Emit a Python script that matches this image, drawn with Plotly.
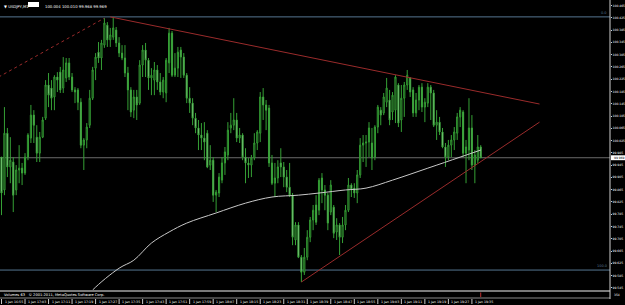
import plotly.graph_objects as go

# ---------------- data ----------------
symbol_text = "▼ USDJPY,M1"
header_values = "100.004 100.010 99.968 99.969"
copyright_text = "Volumes 63   © 2001-2011, MetaQuotes Software Corp."
volume_scale_label = "354"
bid_price = 99.969

bars = list(range(164))

open_ = [99.971, 99.864, 100.049, 99.939, 99.955, 99.864, 99.929, 99.935, 99.919, 99.971,
         100.033, 100.108, 100.036, 99.984, 100.036, 100.098, 100.206, 100.196, 100.167, 100.232,
         100.248, 100.196, 100.229, 100.278, 100.232, 100.190, 100.190, 100.150, 100.010, 100.027,
         100.075, 100.163, 100.261, 100.313, 100.294, 100.336, 100.401, 100.353, 100.362, 100.385,
         100.343, 100.310, 100.294, 100.245, 100.190, 100.124, 100.167, 100.147, 100.271, 100.320,
         100.287, 100.229, 100.222, 100.255, 100.216, 100.183, 100.180, 100.278, 100.375, 100.238,
         100.261, 100.320, 100.297, 100.238, 100.163, 100.147, 100.098, 100.066, 100.043, 100.033,
         100.049, 99.945, 99.961, 99.847, 99.854, 99.896, 99.952, 99.978, 100.066, 100.075,
         100.092, 100.033, 100.043, 99.971, 99.952, 99.945, 99.968, 100.017, 100.049, 100.167,
         100.141, 100.131, 99.952, 99.886, 99.903, 99.952, 99.939, 99.906, 99.873, 99.847,
         99.701, 99.750, 99.645, 99.596, 99.645, 99.710, 99.766, 99.815, 99.798, 99.903,
         99.864, 99.847, 99.792, 99.808, 99.727, 99.750, 99.710, 99.750, 99.798, 99.880,
         99.870, 99.854, 99.913, 100.010, 100.017, 100.020, 100.017, 99.971, 100.069, 100.124,
         100.115, 100.150, 100.157, 100.118, 100.124, 100.206, 100.092, 100.163, 100.206, 100.229,
         100.190, 100.115, 100.157, 100.199, 100.134, 100.147, 100.199, 100.180, 100.075, 100.085,
         100.053, 100.004, 99.971, 100.010, 100.027, 100.049, 100.102, 100.118, 99.984, 99.994,
         100.066, 99.945, 99.961, 100.004]

high = [99.971, 100.134, 100.066, 100.036, 99.971, 99.945, 100.010, 99.952, 99.984, 100.049,
        100.141, 100.124, 100.075, 100.053, 100.102, 100.222, 100.245, 100.222, 100.238, 100.248,
        100.265, 100.297, 100.294, 100.294, 100.245, 100.199, 100.196, 100.163, 100.033, 100.082,
        100.190, 100.265, 100.310, 100.346, 100.353, 100.424, 100.411, 100.392, 100.428, 100.395,
        100.362, 100.336, 100.336, 100.265, 100.199, 100.190, 100.190, 100.287, 100.336, 100.343,
        100.294, 100.261, 100.281, 100.271, 100.245, 100.232, 100.294, 100.392, 100.382, 100.310,
        100.330, 100.330, 100.310, 100.245, 100.199, 100.163, 100.115, 100.092, 100.082, 100.085,
        100.059, 100.010, 99.971, 99.864, 99.919, 99.971, 100.004, 100.085, 100.115, 100.163,
        100.115, 100.066, 100.049, 100.000, 99.968, 99.978, 100.049, 100.059, 100.183, 100.196,
        100.157, 100.141, 99.978, 99.952, 99.961, 100.000, 99.955, 99.929, 99.952, 99.854,
        99.759, 99.759, 99.652, 99.675, 99.733, 99.776, 99.815, 99.847, 99.903, 99.919,
        99.880, 99.854, 99.896, 99.815, 99.772, 99.756, 99.776, 99.815, 99.903, 99.886,
        99.886, 99.929, 100.033, 100.043, 100.043, 100.085, 100.066, 100.075, 100.141, 100.134,
        100.180, 100.229, 100.190, 100.183, 100.238, 100.212, 100.206, 100.216, 100.255, 100.232,
        100.199, 100.180, 100.206, 100.212, 100.163, 100.212, 100.206, 100.190, 100.124, 100.102,
        100.066, 100.017, 100.027, 100.043, 100.069, 100.115, 100.134, 100.124, 100.027, 100.163,
        100.108, 99.994, 100.043, 100.010]

low = [99.782, 99.847, 99.906, 99.886, 99.792, 99.847, 99.886, 99.880, 99.913, 99.961,
       100.017, 100.017, 99.955, 99.955, 100.033, 100.092, 100.134, 100.124, 100.124, 100.183,
       100.180, 100.180, 100.216, 100.222, 100.183, 100.147, 100.124, 100.000, 99.929, 100.000,
       100.066, 100.157, 100.222, 100.278, 100.255, 100.327, 100.330, 100.330, 100.353, 100.330,
       100.297, 100.287, 100.232, 100.124, 100.102, 100.098, 100.092, 100.141, 100.232, 100.232,
       100.190, 100.173, 100.173, 100.190, 100.173, 100.163, 100.150, 100.245, 100.232, 100.232,
       100.232, 100.229, 100.229, 100.147, 100.115, 100.075, 100.049, 99.994, 99.994, 99.961,
       99.935, 99.929, 99.825, 99.792, 99.841, 99.886, 99.913, 99.961, 100.049, 100.059,
       100.020, 100.017, 99.961, 99.886, 99.903, 99.906, 99.961, 99.994, 100.020, 100.092,
       100.059, 99.939, 99.880, 99.841, 99.886, 99.906, 99.873, 99.857, 99.841, 99.684,
       99.684, 99.642, 99.564, 99.587, 99.635, 99.694, 99.733, 99.750, 99.782, 99.821,
       99.798, 99.733, 99.782, 99.707, 99.701, 99.652, 99.691, 99.733, 99.792, 99.841,
       99.838, 99.821, 99.903, 99.955, 99.939, 99.971, 99.929, 99.961, 100.049, 100.075,
       100.108, 100.134, 100.075, 100.092, 100.082, 100.069, 100.053, 100.102, 100.190, 100.167,
       100.102, 100.102, 100.124, 100.118, 100.085, 100.134, 100.092, 100.069, 100.027, 100.043,
       100.000, 99.939, 99.961, 99.971, 99.994, 100.027, 100.069, 99.971, 99.886, 99.961,
       99.929, 99.886, 99.952, 99.968]

close = [99.854, 100.049, 99.939, 99.961, 99.847, 99.929, 99.935, 99.919, 99.971, 100.043,
         100.108, 100.075, 99.984, 100.036, 100.092, 100.206, 100.173, 100.163, 100.232, 100.222,
         100.190, 100.255, 100.278, 100.232, 100.190, 100.183, 100.150, 100.010, 100.027, 100.069,
         100.163, 100.255, 100.297, 100.294, 100.343, 100.408, 100.353, 100.369, 100.392, 100.343,
         100.310, 100.294, 100.245, 100.190, 100.118, 100.167, 100.141, 100.271, 100.320, 100.287,
         100.229, 100.238, 100.255, 100.216, 100.183, 100.222, 100.287, 100.375, 100.238, 100.261,
         100.313, 100.297, 100.238, 100.163, 100.147, 100.098, 100.066, 100.043, 100.033, 100.020,
         99.939, 99.961, 99.847, 99.857, 99.906, 99.952, 99.988, 100.059, 100.075, 100.092,
         100.033, 100.043, 99.971, 99.952, 99.945, 99.968, 100.017, 100.053, 100.167, 100.141,
         100.124, 99.952, 99.886, 99.903, 99.939, 99.939, 99.906, 99.873, 99.847, 99.710,
         99.750, 99.645, 99.596, 99.645, 99.710, 99.766, 99.798, 99.759, 99.896, 99.864,
         99.847, 99.756, 99.880, 99.723, 99.750, 99.710, 99.750, 99.798, 99.880, 99.864,
         99.854, 99.913, 100.010, 100.017, 100.020, 100.066, 99.968, 100.069, 100.134, 100.108,
         100.167, 100.196, 100.092, 100.173, 100.232, 100.082, 100.163, 100.206, 100.238, 100.183,
         100.115, 100.157, 100.199, 100.134, 100.150, 100.199, 100.180, 100.075, 100.085, 100.053,
         100.004, 99.971, 100.010, 100.027, 100.053, 100.102, 100.124, 99.984, 100.004, 100.066,
         99.945, 99.978, 100.004, 99.969]

# moving average (light grey curve), read at a few bars
ma_bars = [27, 31, 40, 45, 51, 57, 63, 73, 83, 92, 101, 108, 117, 124, 133, 145, 156, 163]
ma_values = [99.49, 99.538, 99.609, 99.635, 99.691, 99.727, 99.756, 99.789, 99.821, 99.841,
             99.847, 99.854, 99.864, 99.870, 99.896, 99.935, 99.971, 99.994]

# trend lines (bar, price) pairs
trend1_bars = [-1, 35]
trend1_prices = [100.232, 100.424]
trend2_bars = [37, 183]
trend2_prices = [100.428, 100.144]
trend3_bars = [102, 183]
trend3_prices = [99.564, 100.085]

# fibonacci levels
fib_prices = [100.428, 99.603]
fib_labels = ["0.0", "100.0"]

# price scale
price_ticks = [100.465, 100.425, 100.385, 100.345, 100.305, 100.265, 100.225, 100.185,
               100.145, 100.105, 100.065, 100.025, 99.985, 99.945, 99.905, 99.865, 99.825,
               99.785, 99.745, 99.705, 99.665, 99.625, 99.585, 99.545]

# time scale
time_tick_bars = [0, 8, 16, 24, 32, 40, 48, 56, 64, 72, 80, 88, 96, 104, 112, 120, 128,
                  136, 144, 152, 160]
time_labels = ["1 Jan 16:55", "1 Jan 17:03", "1 Jan 17:11", "1 Jan 17:19", "1 Jan 17:27",
               "1 Jan 17:35", "1 Jan 17:43", "1 Jan 17:51", "1 Jan 17:59", "1 Jan 18:07",
               "1 Jan 18:15", "1 Jan 18:23", "1 Jan 18:31", "1 Jan 18:39", "1 Jan 18:47",
               "1 Jan 18:55", "1 Jan 19:03", "1 Jan 19:11", "1 Jan 19:19", "1 Jan 19:27",
               "1 Jan 19:35"]

# ---------------- styling ----------------
W, H = 625, 305
PLOT_RIGHT = 610
MAIN_BOTTOM = 290
FONT = "DejaVu Sans"
CANDLE_LINE = "#35a035"
BEAR_FILL = "#d8f8d8"
RED = "#9a2b2b"
FIB = "#557691"
GRID_GREY = "#6a6a6a"


def py(px):
    """pixel row (from top) -> paper y"""
    return 1 - px / H


def pxx(px):
    return px / W


fig = go.Figure()

fig.add_trace(go.Candlestick(
    x=bars, open=open_, high=high, low=low, close=close,
    increasing=dict(line=dict(color=CANDLE_LINE, width=1), fillcolor="#000000"),
    decreasing=dict(line=dict(color=CANDLE_LINE, width=1), fillcolor=BEAR_FILL),
    whiskerwidth=0, hoverinfo="none", showlegend=False))

fig.add_trace(go.Scatter(x=ma_bars, y=ma_values, mode="lines",
                         line=dict(color="#c8c8c8", width=1, shape="spline"),
                         hoverinfo="skip", showlegend=False))

fig.add_trace(go.Scatter(x=trend1_bars, y=trend1_prices, mode="lines",
                         line=dict(color=RED, width=1, dash="dot"),
                         hoverinfo="skip", showlegend=False))
for tb, tp in [(trend2_bars, trend2_prices), (trend3_bars, trend3_prices)]:
    fig.add_trace(go.Scatter(x=tb, y=tp, mode="lines",
                             line=dict(color=RED, width=1),
                             hoverinfo="skip", showlegend=False))

shapes = []
annotations = []

# fib lines
for fp, fl in zip(fib_prices, fib_labels):
    shapes.append(dict(type="line", xref="x domain", yref="y", x0=0, x1=1, y0=fp, y1=fp,
                       line=dict(color=FIB, width=1), layer="below"))
    annotations.append(dict(text=fl, xref="paper", yref="y", x=pxx(PLOT_RIGHT - 1), y=fp,
                            xanchor="right", yanchor="bottom", showarrow=False,
                            font=dict(size=3.5, color=FIB, family=FONT)))

# bid line
shapes.append(dict(type="line", xref="x domain", yref="y", x0=0, x1=1, y0=bid_price, y1=bid_price,
                   line=dict(color=GRID_GREY, width=1), layer="below"))

# separator between main window and sub-window
shapes.append(dict(type="rect", xref="paper", yref="paper", x0=0, x1=pxx(PLOT_RIGHT),
                   y0=py(292), y1=py(290), fillcolor="#7a7a7a", line=dict(width=0)))
shapes.append(dict(type="line", xref="paper", yref="paper", x0=0, x1=pxx(PLOT_RIGHT),
                   y0=py(298), y1=py(298), line=dict(color="#8a8a8a", width=1)))
# right price axis line (full height)
shapes.append(dict(type="line", xref="paper", yref="paper", x0=pxx(PLOT_RIGHT), x1=pxx(PLOT_RIGHT),
                   y0=py(299), y1=1, line=dict(color="#d0d0d0", width=1)))

# volume sub-window mark on last bar
shapes.append(dict(type="line", xref="x", yref="paper", x0=bars[-1], x1=bars[-1],
                   y0=py(297), y1=py(292.5), line=dict(color="#c03030", width=1)))
annotations.append(dict(text=volume_scale_label, xref="paper", yref="paper", x=pxx(PLOT_RIGHT + 2),
                        y=py(294.5), xanchor="left", yanchor="middle", showarrow=False,
                        font=dict(size=3, color="white", family=FONT)))

# bid price box on axis
shapes.append(dict(type="rect", xref="paper", yref="y", x0=pxx(PLOT_RIGHT + 1), x1=1,
                   y0=bid_price - 0.008, y1=bid_price + 0.008, fillcolor="#ffffff",
                   line=dict(color="#ffffff", width=0)))
annotations.append(dict(text=f"{bid_price:.3f}", xref="paper", yref="y", x=pxx(PLOT_RIGHT + 1.5),
                        y=bid_price, xanchor="left", yanchor="middle", showarrow=False,
                        font=dict(size=3, color="black", family=FONT)))

# header
annotations.append(dict(text=symbol_text, xref="paper", yref="paper", x=pxx(2), y=py(1.5),
                        xanchor="left", yanchor="top", showarrow=False,
                        font=dict(size=3.8, color="white", family=FONT)))
shapes.append(dict(type="rect", xref="paper", yref="paper", x0=pxx(28), x1=pxx(39),
                   y0=py(7), y1=py(2), fillcolor="#ffffff", line=dict(width=0)))
annotations.append(dict(text=header_values, xref="paper", yref="paper", x=pxx(43), y=py(1.5),
                        xanchor="left", yanchor="top", showarrow=False,
                        font=dict(size=3.8, color="white", family=FONT)))

# copyright / indicator text
annotations.append(dict(text=copyright_text, xref="paper", yref="paper", x=pxx(2), y=py(294.5),
                        xanchor="left", yanchor="middle", showarrow=False,
                        font=dict(size=3.6, color="white", family=FONT)))

# time axis
for tb, tl in zip(time_tick_bars, time_labels):
    shapes.append(dict(type="line", xref="x", yref="paper", x0=tb, x1=tb,
                       y0=py(304), y1=py(299), line=dict(color="#c8c8c8", width=1)))
    annotations.append(dict(text=tl, xref="x", yref="paper", x=tb, y=py(301.8),
                            xanchor="left", yanchor="middle", xshift=1, showarrow=False,
                            font=dict(size=3.2, color="white", family=FONT)))

fig.update_layout(
    width=W, height=H, margin=dict(l=0, r=0, t=0, b=0),
    paper_bgcolor="black", plot_bgcolor="black", showlegend=False, boxgap=0.45,
    xaxis=dict(domain=[0, PLOT_RIGHT / W], range=[-0.51, 206.97], showgrid=False,
               zeroline=False, showticklabels=False, ticks="", showline=False,
               rangeslider=dict(visible=False), fixedrange=True),
    yaxis=dict(domain=[1 - MAIN_BOTTOM / H, 1], range=[99.538, 100.483], side="right",
               tickvals=price_ticks, tickformat=".3f", showgrid=False, zeroline=False,
               ticks="outside", ticklen=1, tickcolor="#d0d0d0", showline=False,
               tickfont=dict(size=3, color="white", family=FONT), automargin=False,
               fixedrange=True),
    shapes=shapes, annotations=annotations,
)

fig.write_html("out.html")
